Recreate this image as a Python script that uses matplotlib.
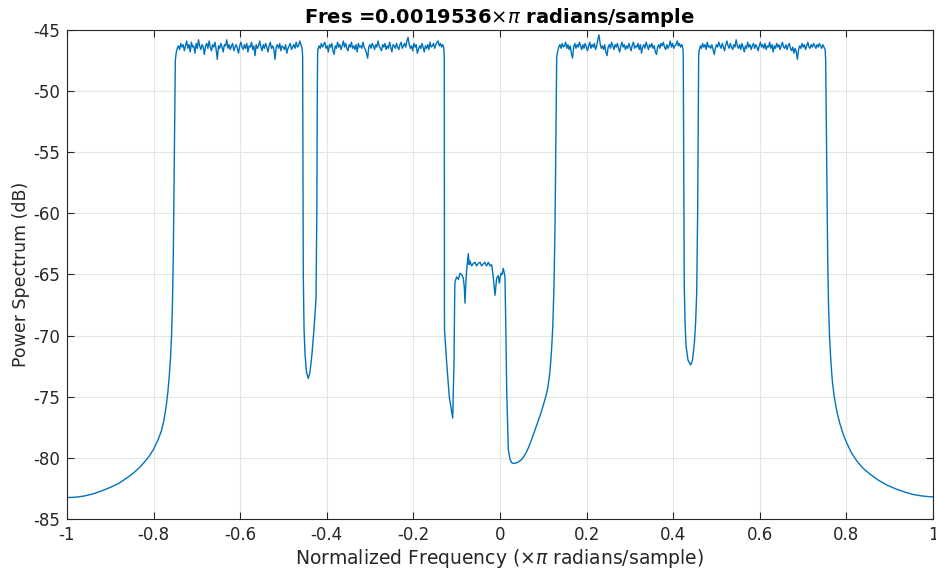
import numpy as np
import matplotlib
matplotlib.use("Agg")
import matplotlib.pyplot as plt

# ---- data ----
# skirts / notches as (freq, dB) pairs
left_skirt_f = [-1.0, -0.98, -0.96, -0.94, -0.92, -0.90, -0.88, -0.86, -0.845, -0.83,
                -0.82, -0.81, -0.80, -0.79, -0.782, -0.776, -0.771, -0.767, -0.764,
                -0.761, -0.7585, -0.7565, -0.7545, -0.7528, -0.7512, -0.7498]
left_skirt_db = [-83.25, -83.22, -83.12, -82.95, -82.7, -82.42, -82.08, -81.6, -81.2, -80.7,
                 -80.3, -79.85, -79.3, -78.55, -77.8, -76.9, -75.8, -74.6, -73.4,
                 -71.9, -70.0, -67.5, -63.5, -58.0, -52.0, -47.5]

band1_db = [-46.9, -46.5, -46.3, -46.6, -46.1, -46.4, -46.2, -46.7, -46.3, -45.9, -46.5, -46.2,
            -46.8, -46.0, -46.4, -46.3, -46.9, -46.1, -46.5, -45.8, -46.3, -46.6, -46.2, -46.4,
            -47.0, -46.3, -46.1, -46.5, -45.9, -46.4, -46.7, -46.2, -46.4, -46.0, -46.6, -47.4,
            -46.3, -46.5, -46.1, -46.4, -46.8, -46.2, -46.3, -45.8, -46.5, -46.2, -46.6, -46.3,
            -46.1, -46.7, -46.4, -46.2, -46.5, -46.9, -46.3, -46.0, -46.4, -46.6, -46.2, -46.5,
            -46.1, -46.8, -46.3, -46.4, -46.0, -46.6, -46.3, -47.1, -46.2, -46.5, -46.3, -45.9,
            -46.4, -46.7, -46.2, -46.5, -46.1, -46.4, -46.8, -46.3, -46.0, -46.5, -46.3, -46.6,
            -47.4, -46.4, -46.2, -46.5, -46.1, -46.7, -46.3, -46.4, -46.6, -46.2, -46.9, -46.5,
            -46.3, -46.1, -46.6, -46.4, -46.2, -46.5, -46.0, -46.4, -46.3, -45.9, -46.2, -46.5]
band1_range = (-0.748, -0.457)

notch1_f = [-0.4557, -0.4550, -0.4543, -0.4525, -0.4503, -0.4469, -0.4427, -0.4388,
            -0.4342, -0.4296, -0.4249, -0.4230, -0.4219, -0.4212]
notch1_db = [-47.2, -55.0, -65.0, -69.5, -71.5, -73.0, -73.5, -73.0,
             -71.5, -69.5, -67.0, -60.0, -50.0, -47.0]

band2_db = [-46.6, -46.3, -46.5, -46.1, -46.4, -46.2, -46.0, -46.5, -46.3, -46.8, -46.2, -46.4,
            -46.1, -46.7, -47.0, -46.3, -46.5, -46.0, -46.4, -46.2, -46.6, -46.3, -45.9, -46.4,
            -46.1, -46.5, -46.7, -46.2, -46.4, -46.0, -46.5, -46.3, -46.6, -46.2, -46.8, -46.1,
            -46.4, -46.3, -46.5, -46.0, -46.4, -46.6, -46.9, -47.3, -46.4, -46.2, -46.5, -46.1,
            -46.3, -46.6, -46.2, -46.4, -45.9, -46.3, -46.5, -46.7, -46.2, -46.4, -46.1, -46.6,
            -46.3, -46.5, -46.0, -46.4, -46.8, -46.2, -46.3, -46.5, -46.1, -46.4, -46.6, -46.2,
            -46.0, -46.5, -46.3, -46.1, -46.4, -45.9, -45.6, -46.2, -46.5, -46.3, -46.7, -46.1,
            -46.4, -46.2, -46.9, -46.6, -46.3, -46.5, -46.1, -46.4, -46.8, -46.3, -46.5, -46.2,
            -46.6, -46.0, -46.4, -46.3, -46.1, -46.5, -46.2, -46.0, -45.9, -46.3, -46.1, -46.4,
            -46.2, -46.5]
band2_range = (-0.4205, -0.1295)

# central notch, small band, trough and rise up to band 3
center_f = [-0.1286, -0.1284, -0.1282, -0.1231, -0.1171, -0.1092, -0.1062, -0.1055, -0.1045,
            -0.1039, -0.1000, -0.0960, -0.0924, -0.0886, -0.0848, -0.0825, -0.0808, -0.0790,
            -0.0769, -0.0732, -0.0712, -0.0693, -0.0655, -0.0617, -0.0580, -0.0540, -0.0501,
            -0.0460, -0.0425, -0.0386, -0.0350, -0.0310, -0.0270, -0.0230, -0.0192, -0.0155,
            -0.0115, -0.0076, -0.0040, -0.0016, 0.0023, 0.0050, 0.0076, 0.0100, 0.0115,
            0.0139, 0.0155, 0.0192, 0.0230, 0.0270, 0.0310, 0.0360, 0.0420, 0.0480, 0.0540,
            0.0600, 0.0660, 0.0720, 0.0769, 0.0820, 0.0870, 0.0920, 0.0970, 0.1020, 0.1079,
            0.1100, 0.1135, 0.1155, 0.1175, 0.1194, 0.1220, 0.1247, 0.1270, 0.1285, 0.1298,
            0.1310]
center_db = [-47.5, -58.0, -69.5, -72.2, -75.0, -76.75, -72.2, -69.5, -66.3,
             -65.6, -65.2, -65.4, -64.9, -65.0, -65.3, -66.0, -67.35, -65.8,
             -64.6, -63.3, -64.2, -63.9, -64.3, -64.1, -64.0, -64.3, -64.1,
             -64.0, -64.3, -64.15, -64.0, -64.3, -64.0, -64.3, -64.2, -65.2,
             -66.7, -65.3, -65.1, -65.7, -64.9, -65.0, -64.5, -64.9, -65.2,
             -70.3, -74.4, -79.3, -80.1, -80.4, -80.45, -80.43, -80.35, -80.2, -79.95,
             -79.6, -79.15, -78.6, -78.1, -77.6, -77.1, -76.6, -76.05, -75.45, -74.7,
             -74.35, -73.5, -72.85, -72.0, -71.0, -69.2, -66.0, -61.4, -56.5, -51.5,
             -47.2]

band3_db = [-46.8, -46.4, -46.2, -46.5, -46.1, -46.4, -46.3, -46.0, -46.5, -46.2, -46.6, -46.3,
            -46.9, -47.3, -46.4, -46.1, -46.5, -46.2, -46.4, -46.0, -46.3, -46.6, -46.2, -46.5,
            -46.1, -46.4, -46.7, -46.3, -46.0, -46.5, -46.2, -46.4, -46.1, -46.6, -46.3, -45.8,
            -45.4, -46.1, -46.5, -46.3, -46.6, -46.2, -46.8, -47.1, -46.4, -46.2, -46.5, -46.0,
            -46.3, -46.6, -46.2, -46.4, -46.1, -46.5, -46.8, -46.3, -46.0, -46.4, -46.2, -46.6,
            -46.3, -46.5, -46.1, -46.4, -46.7, -46.2, -46.0, -46.5, -46.3, -46.4, -46.1, -46.6,
            -46.2, -46.9, -46.4, -46.2, -46.5, -46.0, -46.3, -46.6, -46.2, -46.4, -46.1, -46.5,
            -46.3, -46.8, -47.0, -46.4, -46.2, -46.5, -46.1, -46.3, -46.0, -46.4, -46.6, -46.2,
            -46.5, -46.3, -45.9, -46.4, -46.1, -46.5, -46.3, -46.2, -45.9, -46.3, -46.1, -46.4,
            -46.2, -46.5]
band3_range = (0.1330, 0.4225)

notch2_f = [0.4233, 0.4243, 0.4256, 0.4275, 0.4296, 0.4342, 0.4404, 0.4446,
            0.4492, 0.4520, 0.4543, 0.4565, 0.4580, 0.4589]
notch2_db = [-47.2, -55.0, -66.0, -69.0, -70.8, -72.0, -72.4, -72.0,
             -70.5, -68.8, -66.5, -60.0, -52.0, -47.0]

band4_db = [-46.7, -46.3, -46.5, -46.1, -46.4, -46.2, -46.6, -46.0, -46.4, -46.3, -46.5, -46.2,
            -46.6, -47.0, -46.5, -46.2, -46.4, -46.0, -46.3, -46.5, -46.1, -46.4, -46.7, -46.2,
            -45.9, -46.3, -46.5, -46.1, -46.4, -46.6, -46.2, -46.4, -45.8, -46.3, -46.5, -46.2,
            -46.6, -46.1, -46.4, -46.8, -46.3, -46.5, -46.0, -46.4, -46.2, -46.6, -46.3, -46.1,
            -46.5, -46.2, -46.4, -46.7, -46.3, -46.0, -46.4, -46.2, -46.5, -46.1, -46.6, -46.3,
            -46.4, -46.0, -46.5, -46.2, -46.8, -46.3, -46.5, -46.1, -46.4, -46.2, -46.6, -46.3,
            -46.0, -46.4, -46.5, -46.2, -46.6, -46.3, -46.1, -46.5, -46.7, -46.4, -46.9, -46.5,
            -46.8, -47.4, -46.6, -46.3, -46.5, -46.1, -46.4, -46.2, -46.6, -46.3, -46.0, -46.4,
            -46.5, -46.2, -46.4, -46.1, -46.3, -46.5, -46.2, -46.4, -46.1, -46.3, -46.5, -46.2,
            -46.4, -46.6]
band4_range = (0.4600, 0.7510)

right_skirt_f = [0.7522, 0.7535, 0.7550, 0.7568, 0.7588, 0.7610, 0.7640, 0.7675, 0.772,
                 0.778, 0.785, 0.793, 0.801, 0.812, 0.825, 0.840, 0.857, 0.875, 0.895,
                 0.915, 0.935, 0.955, 0.975, 1.0]
right_skirt_db = [-47.5, -52.0, -58.0, -63.5, -67.5, -70.0, -72.0, -73.7, -75.0,
                  -76.2, -77.2, -78.1, -78.8, -79.6, -80.3, -80.9, -81.4, -81.85, -82.25,
                  -82.55, -82.8, -83.0, -83.12, -83.2]


def band_freqs(rng, vals):
    # one bin per typed value, spread across the passband
    return np.linspace(rng[0], rng[1], len(vals))


freq = np.concatenate([
    left_skirt_f, band_freqs(band1_range, band1_db), notch1_f,
    band_freqs(band2_range, band2_db), center_f,
    band_freqs(band3_range, band3_db), notch2_f,
    band_freqs(band4_range, band4_db), right_skirt_f,
])
power = np.concatenate([
    left_skirt_db, band1_db, notch1_db, band2_db, center_db,
    band3_db, notch2_db, band4_db, right_skirt_db,
])

# ---- figure ----
txt = "#262626"
fig = plt.figure(figsize=(9.37, 5.71), dpi=100)
ax = fig.add_axes([0.0715, 0.0911, 0.9242, 0.8564])

ax.plot(freq, power, color="#0072BD", lw=1.0)

ax.set_xlim(-1, 1)
ax.set_ylim(-85, -45)
ax.set_xticks(np.arange(-1, 1.01, 0.2))
ax.set_yticks(np.arange(-85, -44, 5))
ax.set_xticklabels(["-1", "-0.8", "-0.6", "-0.4", "-0.2", "0", "0.2", "0.4", "0.6", "0.8", "1"])
ax.set_yticklabels([str(v) for v in range(-85, -44, 5)])

ax.grid(True, color="#e5e5e5", lw=0.8)
ax.set_axisbelow(True)
for s in ax.spines.values():
    s.set_color(txt)
    s.set_linewidth(0.8)
ax.tick_params(direction="in", length=5, width=0.8, color=txt, labelcolor=txt,
               labelsize=12, top=True, right=True, pad=5)

ax.set_title(r"Fres =0.0019536$\times\pi$ radians/sample", fontsize=14,
             fontweight="bold", color="black", pad=5)
ax.set_xlabel(r"Normalized Frequency ($\times\pi$ radians/sample)", fontsize=13.5, color=txt, labelpad=2)
ax.set_ylabel("Power Spectrum (dB)", fontsize=12.5, color=txt, labelpad=2)

fig.savefig("out.png", dpi=100)
